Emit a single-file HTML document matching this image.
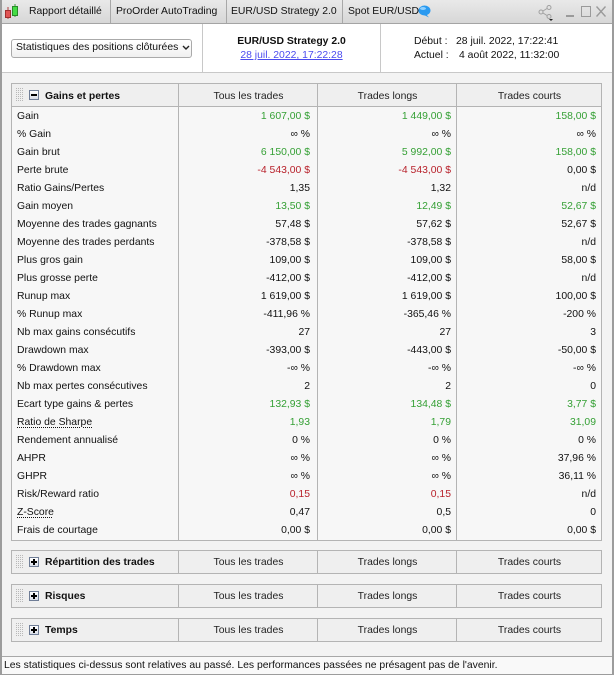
<!DOCTYPE html>
<html><head><meta charset="utf-8">
<style>
*{margin:0;padding:0;box-sizing:border-box}
html,body{width:614px;height:675px;overflow:hidden}
body{font-family:"Liberation Sans",Arial,"DejaVu Sans",sans-serif;font-size:10.4px;color:#111;background:#f3f3f3;position:relative}
.a{position:absolute}
.tabbar{left:0;top:0;width:614px;height:24px;background:linear-gradient(#e9e9e9,#d7d7d7);border-bottom:1px solid #a4a4a4}
.tab{top:0;height:23px;line-height:23px;color:#111;white-space:nowrap}
.tsep{top:0;width:1px;height:23px;background:#a8a8a8}
.hdr{left:0;top:24px;width:614px;height:49px;background:#fff;border-bottom:1px solid #c8c8c8}
.vsep{top:24px;width:1px;height:48px;background:#c8c8c8}
.t{white-space:nowrap;line-height:14px}
.box{border:1px solid #b4b4b4}
.sec{left:11px;width:591px;background:#efefef}
.col{width:1px;background:#b4b4b4}
.ch{width:139px;text-align:center;color:#222;line-height:22px}
.row{left:12px;width:589px;height:18px;line-height:18px}
.lab{position:absolute;left:5px;top:1px;white-space:nowrap}
.v1,.v2,.v3{position:absolute;top:1px;text-align:right;white-space:nowrap}
.v1{right:291px}
.v2{right:150px}
.v3{right:5px}
.g{color:#35a035}
.r{color:#b8222c}
.u{text-decoration:underline dotted;text-underline-offset:2px}
.pm{width:10px;height:10px;border:1px solid #6f7d96;background:linear-gradient(#ffffff,#d9dee8)}
.pm i{position:absolute;left:1px;top:3px;width:6px;height:2px;background:#000}
.pm b{position:absolute;left:3px;top:1px;width:2px;height:6px;background:#000}
.bold{font-weight:bold}
</style></head><body>

<svg width="0" height="0" style="position:absolute">
  <defs>
    <pattern id="dots" width="2" height="2" patternUnits="userSpaceOnUse">
      <rect x="0" y="0" width="1" height="1" fill="#b8b8b8"/>
    </pattern>
  </defs>
</svg>

<!-- window frame -->
<div class="a" style="left:0;top:0;width:614px;height:675px;border-left:2px solid #9c9c9c;border-right:2px solid #9c9c9c;border-bottom:1px solid #9c9c9c;z-index:50;pointer-events:none"></div>

<!-- tab bar -->
<div class="a tabbar"></div>
<svg class="a" style="left:4px;top:4px" width="16" height="16" viewBox="0 0 16 16">
  <line x1="4" y1="3" x2="4" y2="15" stroke="#b04040" stroke-width="1"/>
  <rect x="1.5" y="6.5" width="5" height="7" fill="#e05555" stroke="#a03030"/>
  <line x1="11" y1="0" x2="11" y2="13" stroke="#3a9a3a" stroke-width="1"/>
  <rect x="8.5" y="2.5" width="5" height="9" fill="#44dd44" stroke="#2a8a2a"/>
</svg>
<div class="a tab" style="left:29px">Rapport détaillé</div>
<div class="a tsep" style="left:110px"></div>
<div class="a tab" style="left:116px">ProOrder AutoTrading</div>
<div class="a tsep" style="left:226px"></div>
<div class="a tab" style="left:231px">EUR/USD Strategy 2.0</div>
<div class="a tsep" style="left:342px"></div>
<div class="a tab" style="left:348px">Spot EUR/USD</div>
<svg class="a" style="left:418px;top:5px" width="13" height="13" viewBox="0 0 13 13">
  <ellipse cx="6.5" cy="5.5" rx="6" ry="5" fill="#2a9af0"/>
  <path d="M8 9 L11 12.5 L6 10 Z" fill="#2a9af0"/>
  <ellipse cx="5" cy="3.5" rx="3" ry="1.5" fill="#8fd0ff"/>
</svg>
<!-- right icons -->
<svg class="a" style="left:538px;top:5px" width="16" height="16" viewBox="0 0 16 16">
  <circle cx="11" cy="2.5" r="2" fill="none" stroke="#a0a0a0"/>
  <circle cx="3" cy="7" r="2" fill="none" stroke="#a0a0a0"/>
  <circle cx="11" cy="11.5" r="2" fill="none" stroke="#a0a0a0"/>
  <line x1="5" y1="6" x2="9" y2="3.5" stroke="#a0a0a0"/>
  <line x1="5" y1="8" x2="9" y2="10.5" stroke="#a0a0a0"/>
  <path d="M11 14 L15 14 L13 16 Z" fill="#222"/>
</svg>
<div class="a" style="left:566px;top:15px;width:8px;height:2px;background:#9a9a9a"></div>
<div class="a" style="left:581px;top:6px;width:10px;height:11px;border:1px solid #9a9a9a"></div>
<svg class="a" style="left:596px;top:6px" width="10" height="11" viewBox="0 0 10 11">
  <line x1="0.5" y1="0.5" x2="9.5" y2="10.5" stroke="#9a9a9a" stroke-width="1.4"/>
  <line x1="9.5" y1="0.5" x2="0.5" y2="10.5" stroke="#9a9a9a" stroke-width="1.4"/>
</svg>

<!-- header area -->
<div class="a hdr"></div>
<div class="a vsep" style="left:202px"></div>
<div class="a vsep" style="left:380px"></div>
<div class="a" style="left:11px;top:39px;width:181px;height:19px;border:1px solid #aaaaaa;border-radius:3px;background:linear-gradient(#ffffff,#f0f0f0)"></div>
<div class="a t" style="left:16px;top:41px;color:#111">Statistiques des positions clôturées</div>
<svg class="a" style="left:182px;top:45px" width="8" height="6" viewBox="0 0 8 6">
  <path d="M1 1 L4 4 L7 1" fill="none" stroke="#222" stroke-width="1.4"/>
</svg>
<div class="a t bold" style="left:203px;width:177px;top:35px;text-align:center">EUR/USD Strategy 2.0</div>
<div class="a t" style="left:203px;width:177px;top:49px;text-align:center"><span style="color:#4b4bef;text-decoration:underline">28 juil. 2022, 17:22:28</span></div>
<div class="a t" style="left:414px;top:35px">Début :</div>
<div class="a t" style="left:456px;top:35px">28 juil. 2022, 17:22:41</div>
<div class="a t" style="left:414px;top:49px">Actuel :</div>
<div class="a t" style="left:459px;top:49px">4 août 2022, 11:32:00</div>

<!-- main table -->
<div class="a sec box" style="top:83px;height:458px;background:#f7f7f7"></div>
<div class="a" style="left:12px;top:84px;width:589px;height:23px;background:#efefef;border-bottom:1px solid #b4b4b4"></div>
<div class="a col" style="left:178px;top:84px;height:456px"></div>
<div class="a col" style="left:317px;top:84px;height:456px"></div>
<div class="a col" style="left:456px;top:84px;height:456px"></div>
<svg class="a" style="left:16px;top:88px" width="7" height="14"><rect width="7" height="14" fill="url(#dots)"/></svg>
<div class="a pm" style="left:29px;top:90px"><i></i></div>
<div class="a bold" style="left:45px;top:85px;line-height:23px">Gains et pertes</div>
<div class="a ch" style="left:179px;top:85px;line-height:23px">Tous les trades</div>
<div class="a ch" style="left:318px;top:85px;line-height:23px">Trades longs</div>
<div class="a ch" style="left:457px;top:85px;width:145px;line-height:23px">Trades courts</div>

<div class="a row" style="top:107px"><span class="lab">Gain</span><span class="v1 g">1 607,00 $</span><span class="v2 g">1 449,00 $</span><span class="v3 g">158,00 $</span></div>
<div class="a row" style="top:125px"><span class="lab">% Gain</span><span class="v1">∞ %</span><span class="v2">∞ %</span><span class="v3">∞ %</span></div>
<div class="a row" style="top:143px"><span class="lab">Gain brut</span><span class="v1 g">6 150,00 $</span><span class="v2 g">5 992,00 $</span><span class="v3 g">158,00 $</span></div>
<div class="a row" style="top:161px"><span class="lab">Perte brute</span><span class="v1 r">-4 543,00 $</span><span class="v2 r">-4 543,00 $</span><span class="v3">0,00 $</span></div>
<div class="a row" style="top:179px"><span class="lab">Ratio Gains/Pertes</span><span class="v1">1,35</span><span class="v2">1,32</span><span class="v3">n/d</span></div>
<div class="a row" style="top:197px"><span class="lab">Gain moyen</span><span class="v1 g">13,50 $</span><span class="v2 g">12,49 $</span><span class="v3 g">52,67 $</span></div>
<div class="a row" style="top:215px"><span class="lab">Moyenne des trades gagnants</span><span class="v1">57,48 $</span><span class="v2">57,62 $</span><span class="v3">52,67 $</span></div>
<div class="a row" style="top:233px"><span class="lab">Moyenne des trades perdants</span><span class="v1">-378,58 $</span><span class="v2">-378,58 $</span><span class="v3">n/d</span></div>
<div class="a row" style="top:251px"><span class="lab">Plus gros gain</span><span class="v1">109,00 $</span><span class="v2">109,00 $</span><span class="v3">58,00 $</span></div>
<div class="a row" style="top:269px"><span class="lab">Plus grosse perte</span><span class="v1">-412,00 $</span><span class="v2">-412,00 $</span><span class="v3">n/d</span></div>
<div class="a row" style="top:287px"><span class="lab">Runup max</span><span class="v1">1 619,00 $</span><span class="v2">1 619,00 $</span><span class="v3">100,00 $</span></div>
<div class="a row" style="top:305px"><span class="lab">% Runup max</span><span class="v1">-411,96 %</span><span class="v2">-365,46 %</span><span class="v3">-200 %</span></div>
<div class="a row" style="top:323px"><span class="lab">Nb max gains consécutifs</span><span class="v1">27</span><span class="v2">27</span><span class="v3">3</span></div>
<div class="a row" style="top:341px"><span class="lab">Drawdown max</span><span class="v1">-393,00 $</span><span class="v2">-443,00 $</span><span class="v3">-50,00 $</span></div>
<div class="a row" style="top:359px"><span class="lab">% Drawdown max</span><span class="v1">-∞ %</span><span class="v2">-∞ %</span><span class="v3">-∞ %</span></div>
<div class="a row" style="top:377px"><span class="lab">Nb max pertes consécutives</span><span class="v1">2</span><span class="v2">2</span><span class="v3">0</span></div>
<div class="a row" style="top:395px"><span class="lab">Ecart type gains &amp; pertes</span><span class="v1 g">132,93 $</span><span class="v2 g">134,48 $</span><span class="v3 g">3,77 $</span></div>
<div class="a row" style="top:413px"><span class="lab u">Ratio de Sharpe</span><span class="v1 g">1,93</span><span class="v2 g">1,79</span><span class="v3 g">31,09</span></div>
<div class="a row" style="top:431px"><span class="lab">Rendement annualisé</span><span class="v1">0 %</span><span class="v2">0 %</span><span class="v3">0 %</span></div>
<div class="a row" style="top:449px"><span class="lab">AHPR</span><span class="v1">∞ %</span><span class="v2">∞ %</span><span class="v3">37,96 %</span></div>
<div class="a row" style="top:467px"><span class="lab">GHPR</span><span class="v1">∞ %</span><span class="v2">∞ %</span><span class="v3">36,11 %</span></div>
<div class="a row" style="top:485px"><span class="lab">Risk/Reward ratio</span><span class="v1 r">0,15</span><span class="v2 r">0,15</span><span class="v3">n/d</span></div>
<div class="a row" style="top:503px"><span class="lab u">Z-Score</span><span class="v1">0,47</span><span class="v2">0,5</span><span class="v3">0</span></div>
<div class="a row" style="top:521px"><span class="lab">Frais de courtage</span><span class="v1">0,00 $</span><span class="v2">0,00 $</span><span class="v3">0,00 $</span></div>

<!-- collapsed sections -->
<div class="a sec box" style="top:550px;height:24px"></div>
<div class="a col" style="left:178px;top:551px;height:22px"></div>
<div class="a col" style="left:317px;top:551px;height:22px"></div>
<div class="a col" style="left:456px;top:551px;height:22px"></div>
<svg class="a" style="left:16px;top:555px" width="7" height="14"><rect width="7" height="14" fill="url(#dots)"/></svg>
<div class="a pm" style="left:29px;top:557px"><i></i><b></b></div>
<div class="a bold" style="left:45px;top:552px;line-height:22px">Répartition des trades</div>
<div class="a ch" style="left:179px;top:552px">Tous les trades</div>
<div class="a ch" style="left:318px;top:552px">Trades longs</div>
<div class="a ch" style="left:457px;top:552px;width:145px">Trades courts</div>

<div class="a sec box" style="top:584px;height:24px"></div>
<div class="a col" style="left:178px;top:585px;height:22px"></div>
<div class="a col" style="left:317px;top:585px;height:22px"></div>
<div class="a col" style="left:456px;top:585px;height:22px"></div>
<svg class="a" style="left:16px;top:589px" width="7" height="14"><rect width="7" height="14" fill="url(#dots)"/></svg>
<div class="a pm" style="left:29px;top:591px"><i></i><b></b></div>
<div class="a bold" style="left:45px;top:586px;line-height:22px">Risques</div>
<div class="a ch" style="left:179px;top:586px">Tous les trades</div>
<div class="a ch" style="left:318px;top:586px">Trades longs</div>
<div class="a ch" style="left:457px;top:586px;width:145px">Trades courts</div>

<div class="a sec box" style="top:618px;height:24px"></div>
<div class="a col" style="left:178px;top:619px;height:22px"></div>
<div class="a col" style="left:317px;top:619px;height:22px"></div>
<div class="a col" style="left:456px;top:619px;height:22px"></div>
<svg class="a" style="left:16px;top:623px" width="7" height="14"><rect width="7" height="14" fill="url(#dots)"/></svg>
<div class="a pm" style="left:29px;top:625px"><i></i><b></b></div>
<div class="a bold" style="left:45px;top:620px;line-height:22px">Temps</div>
<div class="a ch" style="left:179px;top:620px">Tous les trades</div>
<div class="a ch" style="left:318px;top:620px">Trades longs</div>
<div class="a ch" style="left:457px;top:620px;width:145px">Trades courts</div>

<!-- footer -->
<div class="a" style="left:0;top:656px;width:614px;height:19px;background:#f9f9f9;border-top:1px solid #a8a8a8"></div>
<div class="a t" style="left:4px;top:659px">Les statistiques ci-dessus sont relatives au passé. Les performances passées ne présagent pas de l'avenir.</div>

</body></html>
